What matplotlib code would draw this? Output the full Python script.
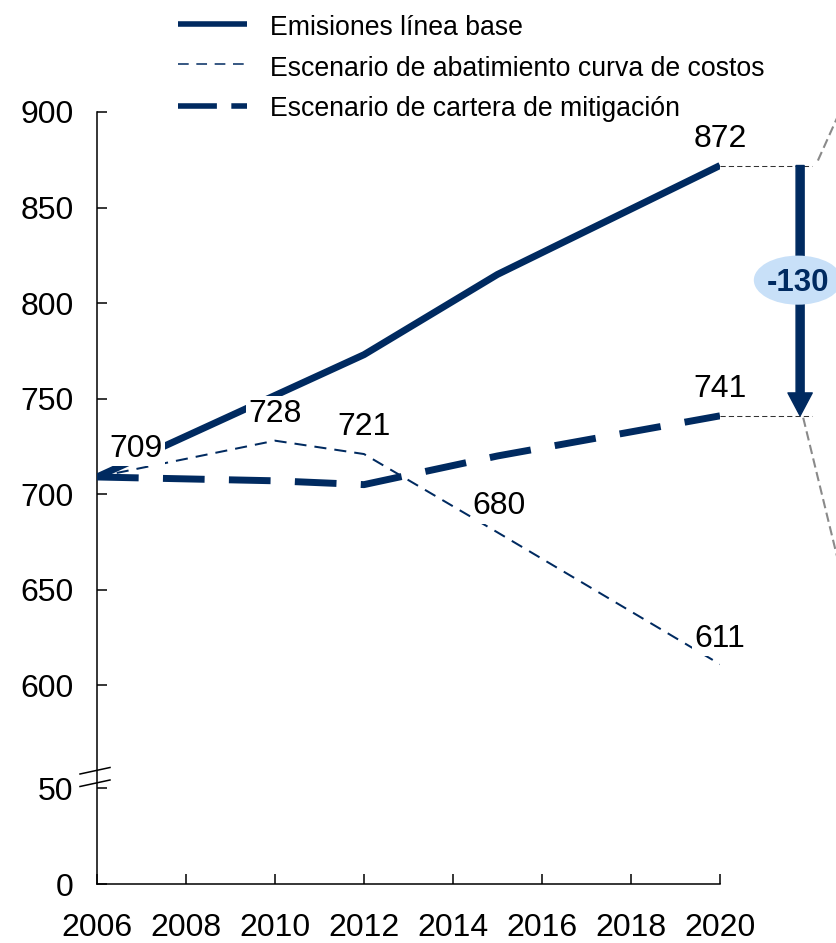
import numpy as np
import matplotlib
matplotlib.use("Agg")
import matplotlib.pyplot as plt
from matplotlib.lines import Line2D
from matplotlib.patches import Ellipse, FancyArrowPatch
from matplotlib.transforms import IdentityTransform

plt.rcParams['font.family'] = ['Liberation Sans', 'DejaVu Sans']

# ---------------- data ----------------
years_base = [2006, 2012, 2015, 2020]
base_vals = [709, 773, 815, 872]

years_cost = [2006, 2010, 2012, 2015, 2020]
cost_vals = [709, 728, 721, 680, 611]

years_port = [2006, 2010, 2012, 2015, 2020]
port_vals = [709, 707, 705, 720, 741]

series_names = ["Emisiones línea base",
                "Escenario de abatimiento curva de costos",
                "Escenario de cartera de mitigación"]

# labelled points: (year, value, text)
point_labels = [(2006, 709, "709"), (2010, 728, "728"), (2012, 721, "721"),
                (2015, 680, "680"), (2020, 611, "611"), (2020, 872, "872"),
                (2020, 741, "741")]
label_offsets_px = [(39, 20), (0, 19), (0, 19), (2, 18), (0, 17), (0, 19), (0, 19)]

reduction_text = "-130"
y_ticks = [0, 50, 600, 650, 700, 750, 800, 850, 900]
x_ticks = list(range(2006, 2021, 2))

NAVY = "#002A60"
W, H = 837, 943

# ---------------- broken y scale ----------------
GAP = 54.0
def fwd(v):
    v = np.asarray(v, dtype=float)
    return np.where(v <= 50, v,
                    np.where(v < 600, 50 + (v - 50) * GAP / 550.0, v - 600 + 50 + GAP))

def inv(d):
    d = np.asarray(d, dtype=float)
    return np.where(d <= 50, d,
                    np.where(d < 50 + GAP, 50 + (d - 50) * 550.0 / GAP, d - 50 - GAP + 600))

fig = plt.figure(figsize=(W / 100, H / 100), dpi=100)
ax = fig.add_axes([97 / W, (H - 884) / H, (720 - 97) / W, (884 - 112) / H])
ax.set_yscale('function', functions=(fwd, inv))
ax.set_ylim(0, 900)
ax.set_xlim(2006, 2020)

base_style = dict(color=NAVY, lw=5.0, solid_capstyle='butt')
cost_style = dict(color=NAVY, lw=1.45, dashes=(6, 4))
port_style = dict(color=NAVY, lw=5.0, dashes=(6, 3.5))

ax.plot(years_base, base_vals, zorder=3, **base_style)
ax.plot(years_cost, cost_vals, zorder=3, **cost_style)
ax.plot(years_port, port_vals, zorder=3, **port_style)

for (x, y, t), (dx, dy) in zip(point_labels, label_offsets_px):
    ax.annotate(t, (x, y), xytext=(dx, dy), textcoords='offset pixels',
                ha='center', va='baseline', fontsize=23, color='black',
                zorder=5, annotation_clip=False,
                bbox=dict(facecolor='white', edgecolor='none', pad=1.5))

# axes styling
for s in ['top', 'right']:
    ax.spines[s].set_visible(False)
for s in ['left', 'bottom']:
    ax.spines[s].set_linewidth(1.1)
ax.set_yticks(y_ticks)
ax.set_yticklabels([str(v) for v in y_ticks])
ax.set_xticks(x_ticks)
ax.set_xticklabels([str(v) for v in x_ticks])
ax.yaxis.set_minor_locator(matplotlib.ticker.NullLocator())
ax.tick_params(axis='y', direction='in', length=7.5, width=1.1, labelsize=23, pad=17)
ax.tick_params(axis='x', direction='in', length=7.5, width=1.1, labelsize=23, pad=21)

# ---------------- right-hand annotation ----------------
x_arrow = 2021.8
ax.plot([2020, 2022.07], [base_vals[-1]] * 2, color='#333333', lw=0.75,
        dashes=(5, 3), clip_on=False, zorder=2)
ax.plot([2020, 2022.07], [port_vals[-1]] * 2, color='#333333', lw=0.75,
        dashes=(5, 3), clip_on=False, zorder=2)
ax.plot([2022.2, 2023.15], [874.6, 923.8], color='#8A8A8A', lw=1.5,
        dashes=(4.5, 2.2), clip_on=False, zorder=2)
ax.plot([2021.87, 2023.15], [740, 617.8], color='#8A8A8A', lw=1.5,
        dashes=(4.5, 2.2), clip_on=False, zorder=2)

arr = FancyArrowPatch((x_arrow, base_vals[-1]), (x_arrow, port_vals[-1]),
                      arrowstyle='simple,head_length=16.5,head_width=17.5,tail_width=5.8',
                      mutation_scale=1, color=NAVY, shrinkA=0, shrinkB=0,
                      clip_on=False, zorder=4, transform=ax.transData)
ax.add_patch(arr)
ell = Ellipse((2021.75, 812), width=1.98, height=25.7, facecolor='#C8E0F8',
              edgecolor='none', clip_on=False, zorder=5)
ax.add_patch(ell)
ax.text(2021.75, 806.5, reduction_text, ha='center', va='baseline', fontsize=22.5,
        fontweight='bold', color=NAVY, zorder=6, clip_on=False)

# ---------------- axis break marks ----------------
idt = IdentityTransform()
for y0, y1 in [((H - 774), (H - 767.5)), ((H - 786.5), (H - 780))]:
    fig.add_artist(Line2D([80, 110], [y0, y1], color='black', lw=1.1, transform=idt))

# ---------------- legend ----------------
leg_rows_line = [23.5, 63.5, 105.5]
leg_rows_text = [35, 75.5, 116.5]
leg_styles = [dict(color=NAVY, lw=4.0, solid_capstyle='butt'),
              dict(color=NAVY, lw=1.1, dashes=(7, 5)),
              dict(color=NAVY, lw=4.0, dashes=(7, 2.6))]
for yl, yt, name, st in zip(leg_rows_line, leg_rows_text, series_names, leg_styles):
    fig.add_artist(Line2D([178, 247], [H - yl, H - yl], transform=idt, **st))
    fig.text(270 / W, (H - yt) / H, name, fontsize=19.2, ha='left', va='baseline')

fig.savefig("out.png", dpi=100)
